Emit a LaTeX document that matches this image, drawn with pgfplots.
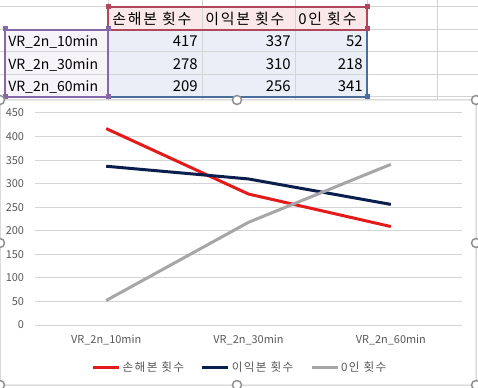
\documentclass[border=0pt]{standalone}
\usepackage{fontspec}
\setmainfont{Noto Sans CJK KR}
\newfontfamily\krls[LetterSpace=12]{Noto Sans CJK KR}
\usepackage{pgfplots}
\pgfplotsset{compat=1.18}
\definecolor{sred}{HTML}{E31B1B}
\definecolor{snavy}{HTML}{0B1F4E}
\definecolor{sgray}{HTML}{A6A6A6}
\definecolor{xgrid}{HTML}{D4D4D4}
\definecolor{tickc}{HTML}{595959}
\definecolor{hdrfill}{HTML}{FBE9E9}
\definecolor{datfill}{HTML}{E9EEF7}
\definecolor{lblfill}{HTML}{F6F4F9}
\definecolor{redb}{HTML}{B0475A}
\definecolor{purb}{HTML}{8468A8}
\definecolor{blub}{HTML}{4A6D9C}
\definecolor{chartb}{HTML}{C8C8C8}
\definecolor{handle}{HTML}{8F8F8F}
\begin{document}
\begin{tikzpicture}
\useasboundingbox (0,0) rectangle (358.5pt,-291pt);
\begin{scope}[x=0.75pt,y=-0.75pt]
  % spreadsheet gridlines
  \foreach \gx in {108,202,295,367,437} \draw[xgrid,line width=0.75pt] (\gx,0) -- (\gx,101);
  \foreach \gy in {7,30,52,75,97} \draw[xgrid,line width=0.75pt] (0,\gy) -- (478,\gy);
  % fills
  \fill[hdrfill] (108,7) rectangle (367,30);
  \fill[datfill] (108,30) rectangle (367,97);
  \fill[lblfill] (5,30) rectangle (108,97);
  \draw[xgrid,line width=0.75pt] (202,7) -- (202,97) (295,7) -- (295,97) (5,52) -- (367,52) (5,75) -- (367,75);
  % range borders
  \draw[blub,line width=1.6pt] (108,30) rectangle (367,97);
  \draw[purb,line width=1.6pt] (5,30) rectangle (108,97);
  \draw[redb,line width=1.6pt] (108,7) rectangle (367,30);
  \fill[redb] (105.5,4.5) rectangle +(5,5);
  \fill[redb] (364.5,4.5) rectangle +(5,5);
  \fill[redb] (364.5,26.5) rectangle +(5,5);
  \fill[purb] (2.5,26.5) rectangle +(5,5);
  \fill[purb] (105.5,26.5) rectangle +(5,5);
  \fill[purb] (2.5,94.5) rectangle +(5,5);
  \fill[purb] (105.5,94.5) rectangle +(5,5);
  \fill[blub] (364.5,94.5) rectangle +(5,5);
  % cell text
  \begin{scope}[every node/.style={inner sep=0pt,font=\fontsize{11.2pt}{13pt}\selectfont}]
  \node[anchor=base west] at (112,25) {\krls 손해본 횟수};
  \node[anchor=base west] at (205,25) {\krls 이익본 횟수};
  \node[anchor=base west] at (298,25) {\krls 0인 횟수};
  \begin{scope}[every node/.append style={font=\fontsize{10.5pt}{13pt}\selectfont}]
  \node[anchor=base west] at (8,47) {VR\_2n\_10min};
  \node[anchor=base west] at (8,70) {VR\_2n\_30min};
  \node[anchor=base west] at (8,92) {VR\_2n\_60min};
  \end{scope}
  \node[anchor=base east] at (198,47) {417};
  \node[anchor=base east] at (291,47) {337};
  \node[anchor=base east] at (363,47) {52};
  \node[anchor=base east] at (198,70) {278};
  \node[anchor=base east] at (291,70) {310};
  \node[anchor=base east] at (363,70) {218};
  \node[anchor=base east] at (198,92) {209};
  \node[anchor=base east] at (291,92) {256};
  \node[anchor=base east] at (363,92) {341};
  \end{scope}
  % chart area
  \draw[chartb,fill=white,line width=0.75pt,rounded corners=2pt] (0,100) rectangle (476,385);
\end{scope}
\begin{axis}[
  at={(26.25pt,-243.75pt)}, anchor=south west,
  scale only axis, width=320.25pt, height=159pt,
  xmin=-0.5, xmax=2.5, ymin=0, ymax=450,
  xtick={0,1,2},
  xticklabels={VR\_2n\_10min,VR\_2n\_30min,VR\_2n\_60min},
  ytick={0,50,...,450},
  axis line style={draw=none},
  major tick length=0pt,
  ymajorgrids, grid style={xgrid,line width=0.75pt},
  /pgf/number format/assume math mode=true,
  ticklabel style={font=\fontsize{8.2pt}{10pt}\selectfont, text=tickc, inner sep=0pt},
  yticklabel style={xshift=-8pt},
  xticklabel style={yshift=-7pt},
  legend columns=3,
  legend style={at={(0.48,-0.2)}, anchor=center, draw=none, fill=none,
    font=\fontsize{8.7pt}{10pt}\selectfont\krls, text=tickc,
    /tikz/every even column/.append style={column sep=11pt},
    nodes={inner sep=1.5pt}},
  legend image code/.code={\draw[#1,line width=2.25pt] (0,0) -- (19.5pt,0);},
  every axis plot/.append style={line width=2.25pt, no markers},
]
\addplot[sred] coordinates {(0,417) (1,278) (2,209)};
\addlegendentry{손해본 횟수}
\addplot[snavy] coordinates {(0,337) (1,310) (2,256)};
\addlegendentry{이익본 횟수}
\addplot[sgray] coordinates {(0,52) (1,218) (2,341)};
\addlegendentry{0인 횟수}
\end{axis}
\begin{scope}[x=0.75pt,y=-0.75pt]
  \foreach \hx/\hy in {0/100,237/100,476/100,0/243,476/243,0/385,237/385,476/385}
    \draw[handle,fill=white,line width=1.1pt] (\hx,\hy) circle (4.5);
\end{scope}
\end{tikzpicture}
\end{document}
